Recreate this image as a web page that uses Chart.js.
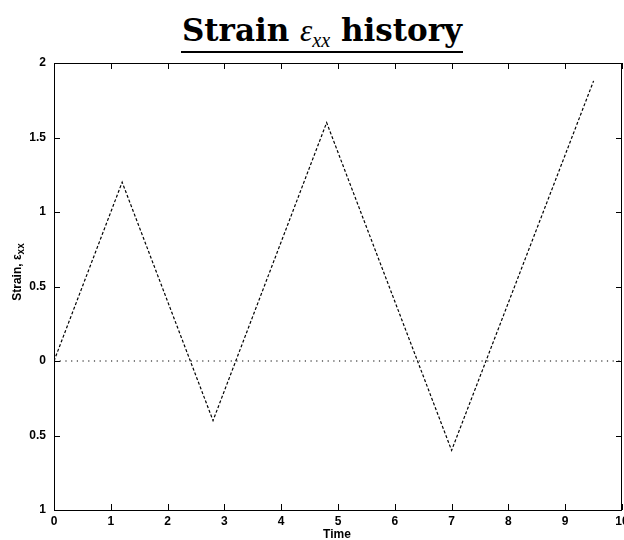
<!DOCTYPE html>
<html>
<head>
<meta charset="utf-8">
<script src="https://cdn.jsdelivr.net/npm/chart.js@4/dist/chart.umd.min.js"></script>
<style>
  html, body { margin: 0; padding: 0; background: #fff; }
  #wrap { position: relative; width: 624px; height: 540px; overflow: hidden; }
  #title {
    position: absolute; left: 20px; top: 15px; width: 604px; text-align: center;
    font-family: "DejaVu Serif", "Liberation Serif", serif; font-weight: bold;
    font-size: 31px; color: #000; line-height: 1;
  }
  #title span.u { display: inline-block; border-bottom: 2px solid #000; padding: 0 1px 5px 1px; }
  #title i { font-family: "Liberation Serif", serif; font-weight: normal; }
  #title sub { font-size: 0.65em; vertical-align: -0.3em; line-height: 0; }
  canvas { position: absolute; left: 0; top: 0; }
</style>
</head>
<body>
<div id="wrap">
  <div id="title"><span class="u">Strain <i>ε<sub>xx</sub></i> history</span></div>
  <canvas id="c" width="624" height="540"></canvas>
</div>
<script>
// ---- data ----
const timeValues   = [0, 1.2, 2.8, 4.8, 7.0, 9.5];
const strainValues = [0, 1.2, -0.4, 1.6, -0.6, 1.88];
const zeroLineX    = [0, 10];
const zeroLineY    = [0, 0];
const xTickLabels  = ['0','1','2','3','4','5','6','7','8','9','10'];
const yTickLabels  = ['1','0.5','0','0.5','1','1.5','2'];
const xTitle = 'Time';
const yTitleMain = 'Strain, ε';
const yTitleSub = 'xx';

const toPts = (xs, ys) => xs.map((x, i) => ({ x: x, y: ys[i] }));

const labelFont = { family: 'Liberation Sans, Arial, sans-serif', size: 12, weight: 'bold' };

const frame = {
  id: 'frame',
  afterDraw(chart) {
    const { ctx, chartArea: a, scales: { x, y } } = chart;
    ctx.save();
    ctx.strokeStyle = '#000';
    ctx.lineWidth = 1;
    ctx.strokeRect(Math.round(a.left) + 0.5, Math.round(a.top) + 0.5,
                   Math.round(a.right - a.left) - 1, Math.round(a.bottom - a.top));
    const t = 6;
    ctx.beginPath();
    x.ticks.forEach(tk => {
      const px = Math.round(x.getPixelForValue(tk.value)) + 0.5;
      ctx.moveTo(px, a.bottom); ctx.lineTo(px, a.bottom - t);
      ctx.moveTo(px, a.top); ctx.lineTo(px, a.top + t);
    });
    y.ticks.forEach(tk => {
      const py = Math.round(y.getPixelForValue(tk.value)) + 0.5;
      ctx.moveTo(a.left, py); ctx.lineTo(a.left + t, py);
      ctx.moveTo(a.right, py); ctx.lineTo(a.right - t, py);
    });
    ctx.stroke();
    // axis titles
    ctx.fillStyle = '#000';
    ctx.font = 'bold 12px "Liberation Sans", Arial, sans-serif';
    ctx.textAlign = 'center';
    ctx.textBaseline = 'alphabetic';
    ctx.fillText(xTitle, (a.left + a.right) / 2 - 1, 538);
    ctx.translate(21, 272);
    ctx.rotate(-Math.PI / 2);
    const wMain = ctx.measureText(yTitleMain).width;
    ctx.font = 'bold 10px "Liberation Sans", Arial, sans-serif';
    const wSub = ctx.measureText(yTitleSub).width;
    const start = -(wMain + wSub) / 2;
    ctx.textAlign = 'left';
    ctx.font = 'bold 12px "Liberation Sans", Arial, sans-serif';
    ctx.fillText(yTitleMain, start, 0);
    ctx.font = 'bold 10px "Liberation Sans", Arial, sans-serif';
    ctx.fillText(yTitleSub, start + wMain, 3);
    ctx.restore();
  }
};

new Chart(document.getElementById('c'), {
  type: 'line',
  data: {
    datasets: [
      { data: toPts(timeValues, strainValues), borderColor: '#000', borderWidth: 1.2,
        borderDash: [3, 2], pointRadius: 0, tension: 0, fill: false },
      { data: toPts(zeroLineX, zeroLineY), borderColor: '#000', borderWidth: 1.2,
        borderDash: [1.2, 4.5], pointRadius: 0, tension: 0, fill: false }
    ]
  },
  options: {
    responsive: false,
    animation: false,
    devicePixelRatio: 1,
    layout: { padding: { left: 0, right: 2, top: 63, bottom: 0 } },
    plugins: { legend: { display: false }, tooltip: { enabled: false }, title: { display: false } },
    scales: {
      x: {
        type: 'linear', min: 0, max: 10,
        grid: { display: false, drawTicks: false }, border: { display: false },
        ticks: { stepSize: 1, autoSkip: false, maxRotation: 0, padding: 4, color: '#000', font: labelFont,
                 callback: (v, i) => xTickLabels[i] },
        afterFit(s) { s.height = 30; s.paddingLeft = 0; s.paddingRight = 0; }
      },
      y: {
        type: 'linear', min: -1, max: 2,
        grid: { display: false, drawTicks: false }, border: { display: false },
        ticks: { stepSize: 0.5, autoSkip: false, padding: 8, color: '#000', font: labelFont,
                 callback: (v, i) => yTickLabels[i] },
        afterFit(s) { s.width = 54; s.paddingTop = 0; s.paddingBottom = 0; }
      }
    }
  },
  plugins: [frame]
});
</script>
</body>
</html>
